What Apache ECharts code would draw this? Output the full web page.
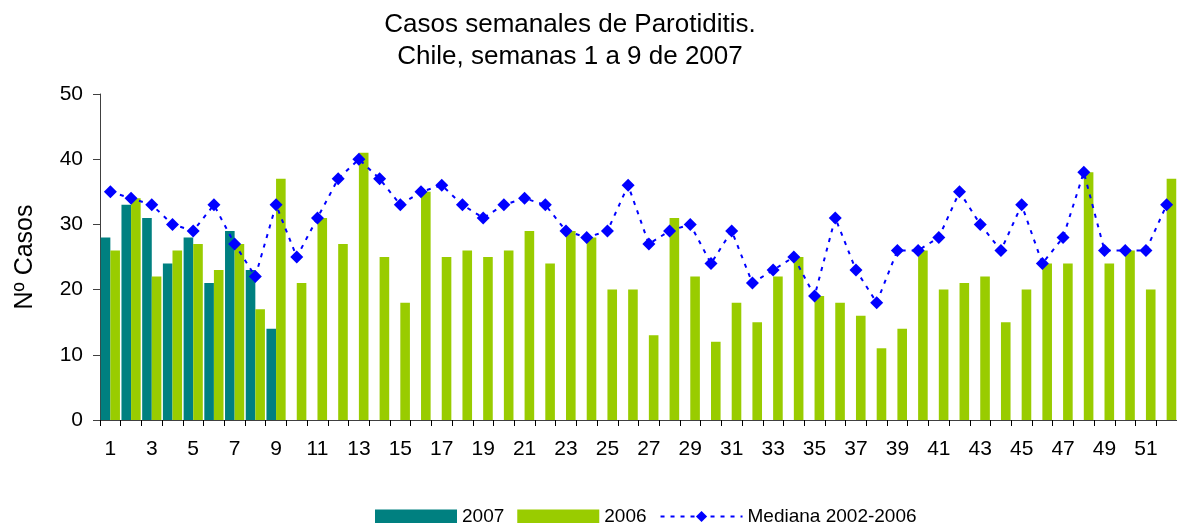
<!DOCTYPE html>
<html lang="es">
  <head>
    <meta charset="UTF-8" />
    <title>Casos semanales de Parotiditis</title>
    <script src="https://cdn.jsdelivr.net/npm/echarts@6.0.0/dist/echarts.min.js"></script>
    <style>
      html, body { margin: 0; padding: 0; background: #fff; }
    </style>
  </head>
  <body>
    <div id="main" style="width: 1177px; height: 523px"></div>
    <script type="text/javascript">
      // semanas epidemiologicas
      const semanas = [];
      for (let i = 1; i <= 52; i++) semanas.push(String(i));

      const casos2007 = [28, 33, 31, 24, 28, 21, 29, 23, 14];

      const casos2006 = [
        26, 34, 22, 26, 27, 23, 27, 17, 37, 21,
        31, 27, 41, 25, 18, 35, 25, 26, 25, 26,
        29, 24, 29, 28, 20, 20, 13, 31, 22, 12,
        18, 15, 22, 25, 19, 18, 16, 11, 14, 26,
        20, 21, 22, 15, 20, 24, 24, 38, 24, 26,
        20, 37,
      ];

      const mediana = [
        35, 34, 33, 30, 29, 33, 27, 22, 33, 25,
        31, 37, 40, 37, 33, 35, 36, 33, 31, 33,
        34, 33, 29, 28, 29, 36, 27, 29, 30, 24,
        29, 21, 23, 25, 19, 31, 23, 18, 26, 26,
        28, 35, 30, 26, 33, 24, 28, 38, 26, 26,
        26, 33,
      ];

      const fuente = "'Liberation Sans', Arial, sans-serif";
      const myChart = echarts.init(document.getElementById('main'));

      const option = {
        backgroundColor: '#fff',
        animation: false,
        textStyle: { fontFamily: fuente, color: '#000' },
        graphic: [
          {
            type: 'text',
            x: 570,
            y: 9,
            style: {
              text: 'Casos semanales de Parotiditis.\nChile, semanas 1 a 9 de 2007',
              font: '26px ' + fuente,
              fill: '#000',
              align: 'center',
              lineHeight: 32,
            },
          },
        ],
        legend: {
          left: 370,
          top: 502,
          itemWidth: 82,
          itemHeight: 14,
          itemGap: 13,
          textStyle: { fontSize: 19, color: '#000', fontFamily: fuente },
          data: [
            { name: '2007', icon: 'rect' },
            { name: '2006', icon: 'rect' },
            'Mediana 2002-2006',
          ],
        },
        grid: {
          left: 100,
          top: 94,
          width: 1082,
          height: 326,
          containLabel: false,
        },
        xAxis: {
          type: 'category',
          data: semanas,
          axisLine: { lineStyle: { color: '#404040', width: 1 } },
          axisTick: { show: true, interval: 0, length: 6, lineStyle: { color: '#000' } },
          axisLabel: { interval: 1, fontSize: 21, color: '#000', margin: 19 },
          splitLine: { show: false },
        },
        yAxis: {
          type: 'value',
          min: 0,
          max: 50,
          interval: 10,
          name: 'Nº Casos',
          nameLocation: 'middle',
          nameGap: 62,
          nameTextStyle: { fontSize: 25, color: '#000' },
          axisLine: { show: true, lineStyle: { color: '#404040', width: 1 } },
          axisTick: { show: true, length: 7, lineStyle: { color: '#404040' } },
          axisLabel: { fontSize: 21, color: '#000', margin: 17 },
          splitLine: { show: false },
        },
        series: [
          {
            name: '2007',
            type: 'bar',
            data: casos2007,
            barWidth: 9.6,
            barGap: '0%',
            itemStyle: { color: '#008080' },
          },
          {
            name: '2006',
            type: 'bar',
            data: casos2006,
            barWidth: 9.6,
            barGap: '0%',
            itemStyle: { color: '#99CC00' },
          },
          {
            name: 'Mediana 2002-2006',
            type: 'line',
            data: mediana,
            symbol: 'diamond',
            symbolSize: 13,
            itemStyle: { color: '#0000FF' },
            lineStyle: { color: '#0000FF', width: 2, type: [4, 6] },
            z: 5,
          },
        ],
      };

      myChart.setOption(option);
    </script>
  </body>
</html>
